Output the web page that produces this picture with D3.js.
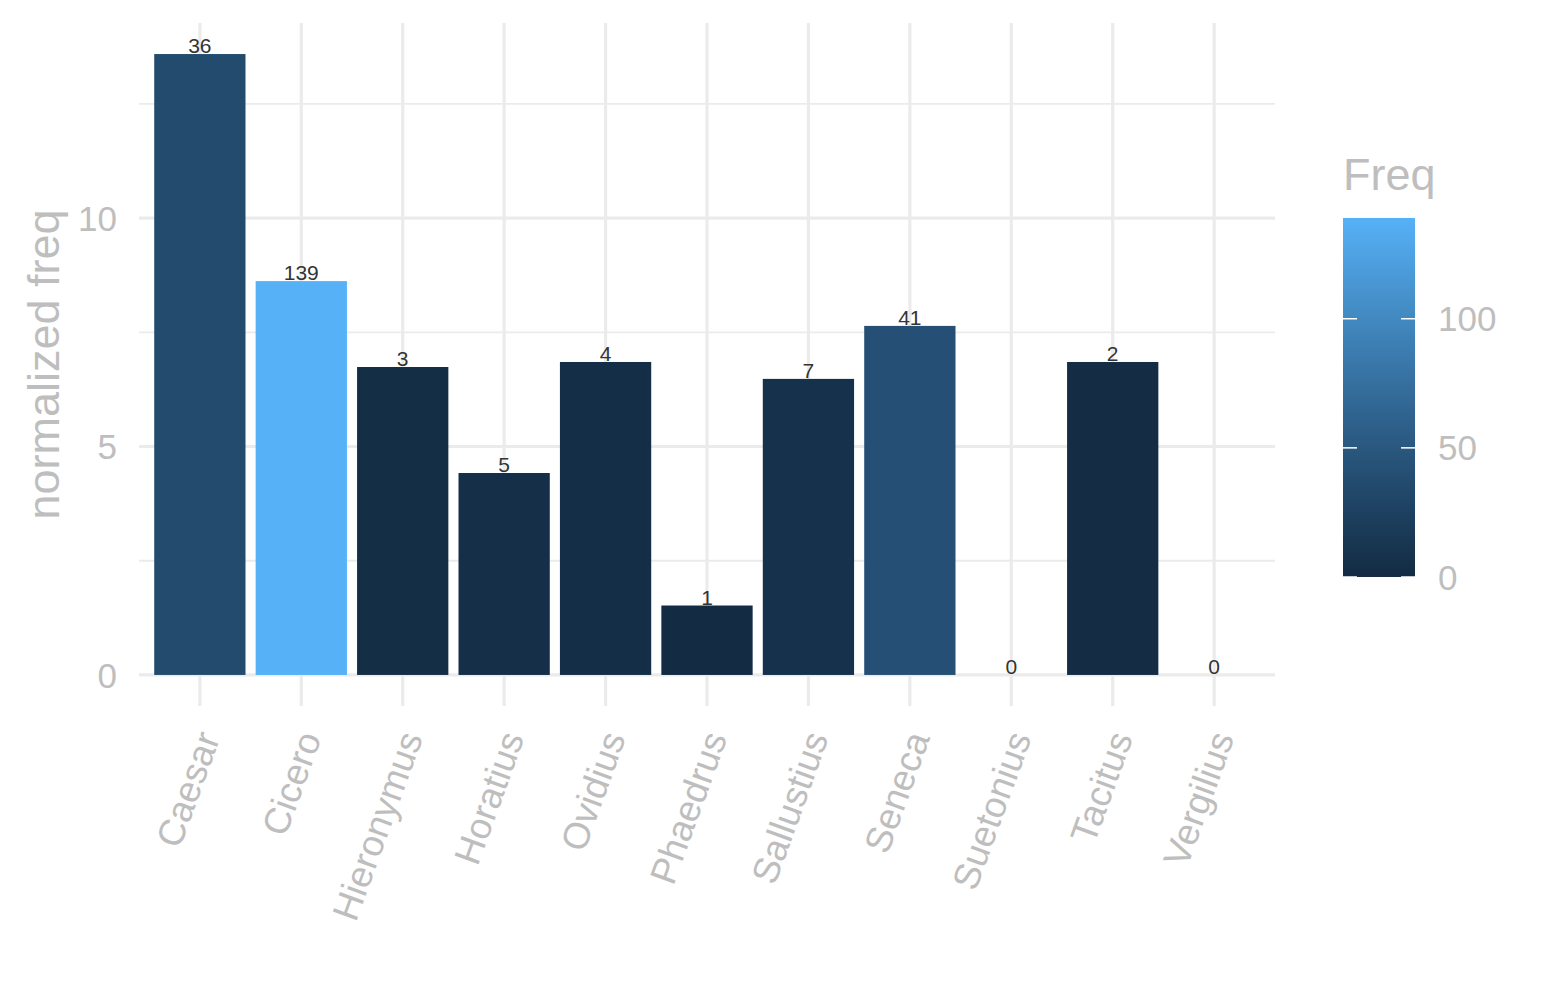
<!DOCTYPE html>
<html>
<head>
<meta charset="utf-8">
<script src="https://cdn.jsdelivr.net/npm/d3@7"></script>
<style>
  body { margin: 0; background: #fff; }
  text { font-family: "Liberation Sans", Arial, sans-serif; }
</style>
</head>
<body>
<script>
const WIDTH = 1545;
const HEIGHT = 1000;

// data
const authors = ['Caesar', 'Cicero', 'Hieronymus', 'Horatius', 'Ovidius', 'Phaedrus',
  'Sallustius', 'Seneca', 'Suetonius', 'Tacitus', 'Vergilius'];
const normFreq = [13.59, 8.62, 6.74, 4.42, 6.85, 1.52, 6.48, 7.64, 0, 6.85, 0];
const freq = [36, 139, 3, 5, 4, 1, 7, 41, 0, 2, 0];
const yTicks = [0, 5, 10];
const yMinor = [2.5, 7.5, 12.5];
const legendTicks = [0, 50, 100];

const rows = authors.map((a, i) => ({author: a, norm: normFreq[i], freq: freq[i]}));

const panel = {left: 139, right: 1275, top: 23, bottom: 706};
const GRID = '#EBEBEB';
const AXIS_TEXT = '#BEBEBE';

const yMax = d3.max(normFreq);
const pad = yMax * 0.05;

const x = d3.scaleBand()
  .domain(authors)
  .range([panel.left, panel.right])
  .paddingInner(0.1)
  .paddingOuter(0.15);

const y = d3.scaleLinear()
  .domain([-pad, yMax + pad])
  .range([panel.bottom, panel.top]);

const color = d3.scaleLinear()
  .domain([0, d3.max(freq)])
  .range(['#132B43', '#56B1F7'])
  .interpolate(d3.interpolateLab);

const svg = d3.select('body')
  .append('svg')
  .attr('width', WIDTH)
  .attr('height', HEIGHT);

// grid
svg.append('g')
  .selectAll('line')
  .data(yMinor)
  .join('line')
  .attr('x1', panel.left).attr('x2', panel.right)
  .attr('y1', d => y(d)).attr('y2', d => y(d))
  .attr('stroke', GRID).attr('stroke-width', 1.8);

svg.append('g')
  .selectAll('line')
  .data(yTicks)
  .join('line')
  .attr('x1', panel.left).attr('x2', panel.right)
  .attr('y1', d => y(d)).attr('y2', d => y(d))
  .attr('stroke', GRID).attr('stroke-width', 3.2);

svg.append('g')
  .selectAll('line')
  .data(authors)
  .join('line')
  .attr('x1', d => x(d) + x.bandwidth() / 2).attr('x2', d => x(d) + x.bandwidth() / 2)
  .attr('y1', panel.top).attr('y2', panel.bottom)
  .attr('stroke', GRID).attr('stroke-width', 3.2);

// bars
svg.append('g')
  .selectAll('rect')
  .data(rows)
  .join('rect')
  .attr('x', d => x(d.author))
  .attr('width', x.bandwidth())
  .attr('y', d => y(d.norm))
  .attr('height', d => y(0) - y(d.norm))
  .attr('fill', d => color(d.freq));

// value labels
svg.append('g')
  .selectAll('text')
  .data(rows)
  .join('text')
  .attr('x', d => x(d.author) + x.bandwidth() / 2)
  .attr('y', d => y(d.norm) - 1)
  .attr('text-anchor', 'middle')
  .attr('font-size', 21)
  .attr('fill', '#333333')
  .text(d => d.freq);

// y axis labels
svg.append('g')
  .selectAll('text')
  .data(yTicks)
  .join('text')
  .attr('x', 117)
  .attr('y', d => y(d))
  .attr('dy', '0.36em')
  .attr('text-anchor', 'end')
  .attr('font-size', 35)
  .attr('fill', AXIS_TEXT)
  .text(d => d);

// x axis labels
svg.append('g')
  .selectAll('text')
  .data(authors)
  .join('text')
  .attr('transform', d => `translate(${x(d) + x.bandwidth() / 2 + 8},${733}) rotate(-70)`)
  .attr('dy', '0.36em')
  .attr('text-anchor', 'end')
  .attr('font-size', 37)
  .attr('fill', AXIS_TEXT)
  .text(d => d);

// y title
svg.append('text')
  .attr('transform', `translate(59,${(panel.top + panel.bottom) / 2}) rotate(-90)`)
  .attr('text-anchor', 'middle')
  .attr('font-size', 45)
  .attr('fill', AXIS_TEXT)
  .text('normalized freq');

// legend
const barTop = 218, barBottom = 577, barLeft = 1343, barW = 72;
const legendY = d3.scaleLinear()
  .domain([0, d3.max(freq)])
  .range([barBottom, barTop]);

const grad = svg.append('defs')
  .append('linearGradient')
  .attr('id', 'freqGrad')
  .attr('x1', 0).attr('x2', 0).attr('y1', 1).attr('y2', 0);

grad.selectAll('stop')
  .data(d3.range(0, 1.0001, 0.05))
  .join('stop')
  .attr('offset', d => d)
  .attr('stop-color', d => color(d * d3.max(freq)));

svg.append('text')
  .attr('x', barLeft)
  .attr('y', 190)
  .attr('font-size', 45)
  .attr('fill', AXIS_TEXT)
  .text('Freq');

svg.append('rect')
  .attr('x', barLeft)
  .attr('y', barTop)
  .attr('width', barW)
  .attr('height', barBottom - barTop)
  .attr('fill', 'url(#freqGrad)');

const lt = svg.append('g')
  .selectAll('g')
  .data(legendTicks)
  .join('g');

lt.append('line')
  .attr('x1', barLeft).attr('x2', barLeft + 14)
  .attr('y1', d => legendY(d)).attr('y2', d => legendY(d))
  .attr('stroke', '#fff').attr('stroke-width', 1.5);

lt.append('line')
  .attr('x1', barLeft + barW - 14).attr('x2', barLeft + barW)
  .attr('y1', d => legendY(d)).attr('y2', d => legendY(d))
  .attr('stroke', '#fff').attr('stroke-width', 1.5);

lt.append('text')
  .attr('x', 1438)
  .attr('y', d => legendY(d))
  .attr('dy', '0.36em')
  .attr('font-size', 35)
  .attr('fill', AXIS_TEXT)
  .text(d => d);
</script>
</body>
</html>
